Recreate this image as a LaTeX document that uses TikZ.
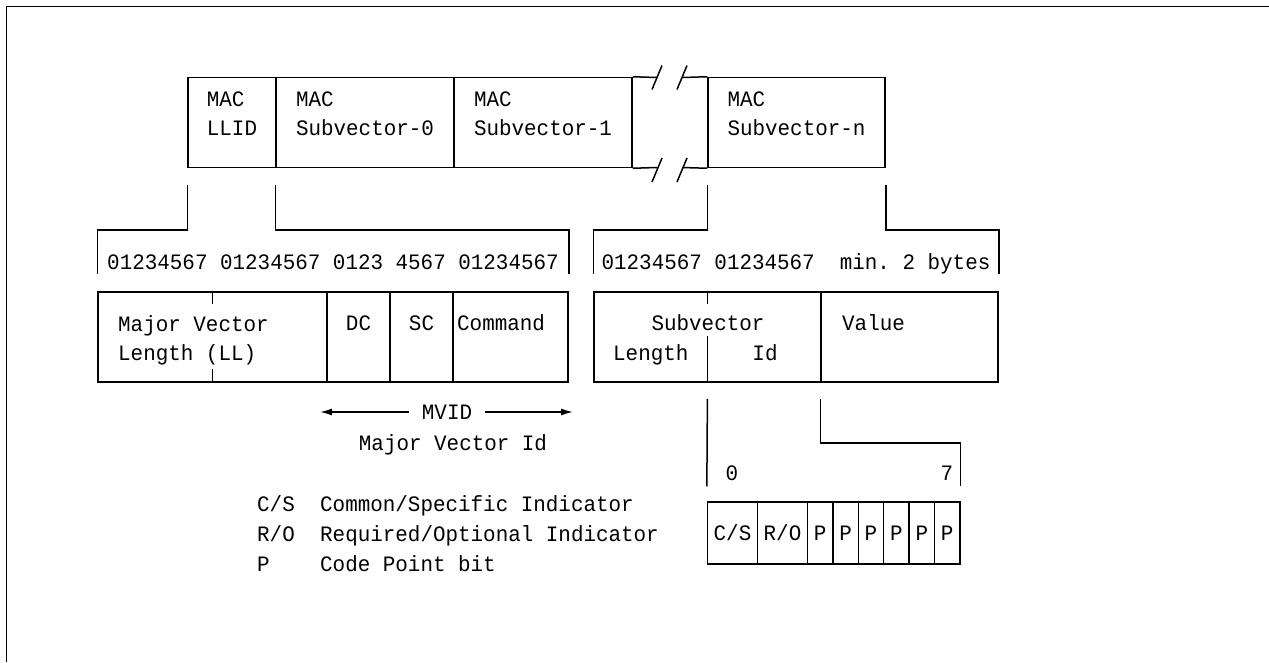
\documentclass[tikz,border=0pt]{standalone}
\usepackage{fontspec}
\newfontfamily\ibm[FakeStretch=0.95]{Liberation Mono}
\usetikzlibrary{arrows.meta}
\tikzset{
    cell/.style ={draw, line width=1.5pt, inner sep=0pt, minimum height=90pt},
    bitcell/.style={cell, minimum height=62pt},
    txt/.style  ={font={\ibm\fontsize{22}{29}\selectfont}, inner sep=0pt, align=left},
    ln/.style   ={line width=1.5pt},
    ar/.style   ={-{Latex[length=12pt, width=7pt]}, line width=1.5pt}
}

\begin{document}
\begin{tikzpicture}[x=1pt, y=-1pt]
  \useasboundingbox (0,0) rectangle (1269,662);
  \draw[ln] (1269,6.5) -- (6.5,6.5) -- (6.5,662);

  % MAC major vector
  \node[cell, minimum width=88pt]  (llid) at (232,122.5) {};
  \node[cell, minimum width=178pt] (sub0) at (365,122.5) {};
  \node[cell, minimum width=178pt] (sub1) at (543,122.5) {};
  \node[cell, minimum width=177pt] (subn) at (796.5,122.5) {};
  \node[txt] (llidT) at (232,114) {MAC\\LLID};
  \node[txt] (sub0T) at (365,114) {MAC\\Subvector-0};
  \node[txt] (sub1T) at (543,114) {MAC\\Subvector-1};
  \node[txt] (subnT) at (796.5,114) {MAC\\Subvector-n};

  \draw[ln] (sub1.north east) -- (657,77.5) (682,77.5) -- (subn.north west);
  \draw[ln] (sub1.south east) -- (657,167.5) (682,167.5) -- (subn.south west);
  \foreach \x in {657,682}
    \foreach \y in {77.5,170}
      \draw[ln] (\x-5,\y+12) -- (\x+5,\y-12);

  % header fields
  \node[cell, minimum width=229pt] (mvlen) at (212.5,337) {};
  \node[cell, minimum width=63pt]  (dc)    at (358.5,337) {};
  \node[cell, minimum width=63pt]  (sc)    at (421.5,337) {};
  \node[cell, minimum width=115pt] (cmd)   at (510.5,337) {};
  \node[cell, minimum width=227pt] (svec)  at (707.5,337) {};
  \node[cell, minimum width=177pt] (value) at (909.5,337) {};
  \draw[ln] (mvlen.north) -- ++(0,13);
  \draw[ln] (mvlen.south) -- ++(0,-14);
  \draw[ln] (svec.north) -- ++(0,13);
  \draw[ln] (svec.south) -- ++(0,-47);

  \node[txt, anchor=west] (mvlenT) at (118,340) {Major Vector\\Length (LL)};
  \node[txt, anchor=base] (dcT) at (358.5,330) {DC};
  \node[txt, anchor=base] (scT) at (421.5,330) {SC};
  \node[txt, anchor=base west] (cmdT) at (457,330) {Command};
  \node[txt, anchor=base] (svecT) at (708,330) {Subvector};
  \node[txt, anchor=base west] (svlenT) at (613,360) {Length};
  \node[txt, anchor=base] (svidT) at (765,360) {Id};
  \node[txt, anchor=base west] (valueT) at (842,330) {Value};

  \node[txt, anchor=base] (bitsL) at (333,269) {01234567 01234567 0123 4567 01234567};
  \node[txt, anchor=base] (bitsR) at (796,269) {01234567 01234567~ min.\ 2 bytes};

  \coordinate (kn) at (0,230);
  \draw[ln, shorten <=17pt, shorten >=17pt] (llid.south west) |- (kn -| mvlen.west) -- (mvlen.north west);
  \draw[ln, shorten <=17pt, shorten >=17pt] (sub0.south west) |- (kn -| cmd.east) -- (cmd.north east);
  \draw[ln, shorten <=17pt, shorten >=17pt] (subn.south west) |- (kn -| svec.west) -- (svec.north west);
  \draw[ln, shorten <=17pt, shorten >=17pt] (subn.south east) |- (kn -| value.east) -- (value.north east);

  % MVID
  \node[txt] (mvid) at (447,412) {MVID};
  \coordinate (mvidL) at (320,412);
  \coordinate (mvidR) at (573,412);
  \draw[ar, shorten <=13pt] (mvid) -- (mvidL);
  \draw[ar, shorten <=13pt] (mvid) -- (mvidR);
  \node[txt, anchor=base] (mvidT) at (453,450) {Major Vector Id};

  % subvector id bits
  \node[bitcell, minimum width=50pt] (cs) at (732.5,533) {};
  \node[bitcell, minimum width=50pt] (ro) at (782.5,533) {};
  \node[txt] (csT) at (cs) {C/S};
  \node[txt] (roT) at (ro) {R/O};
  \foreach \i in {1,...,6} {
    \node[bitcell, minimum width=25.4pt] (p\i) at (807.5+25.4*\i-12.7,533) {};
    \node[txt] (p\i T) at (p\i) {P};
  }
  \node[txt, anchor=base] (bit0) at (732,480) {0};
  \node[txt, anchor=base] (bit7) at (947,480) {7};

  \coordinate (kn2) at (0,443);
  \draw[ln, shorten <=16pt, shorten >=15pt] (svec.south) -- (cs.north west);
  \draw[ln, shorten <=16pt, shorten >=15pt] (value.south west) |- (kn2 -| p6.east) -- (p6.north east);

  % legend
  \node[txt, anchor=base west] (lgCS) at (257,511) {C/S};
  \node[txt, anchor=base west] (lgRO) at (257,541) {R/O};
  \node[txt, anchor=base west] (lgP)  at (257,571) {P};
  \node[txt, anchor=base west] (lgCSd) at (320,511) {Common/Specific Indicator};
  \node[txt, anchor=base west] (lgROd) at (320,541) {Required/Optional Indicator};
  \node[txt, anchor=base west] (lgPd)  at (320,571) {Code Point bit};
\end{tikzpicture}
\end{document}
